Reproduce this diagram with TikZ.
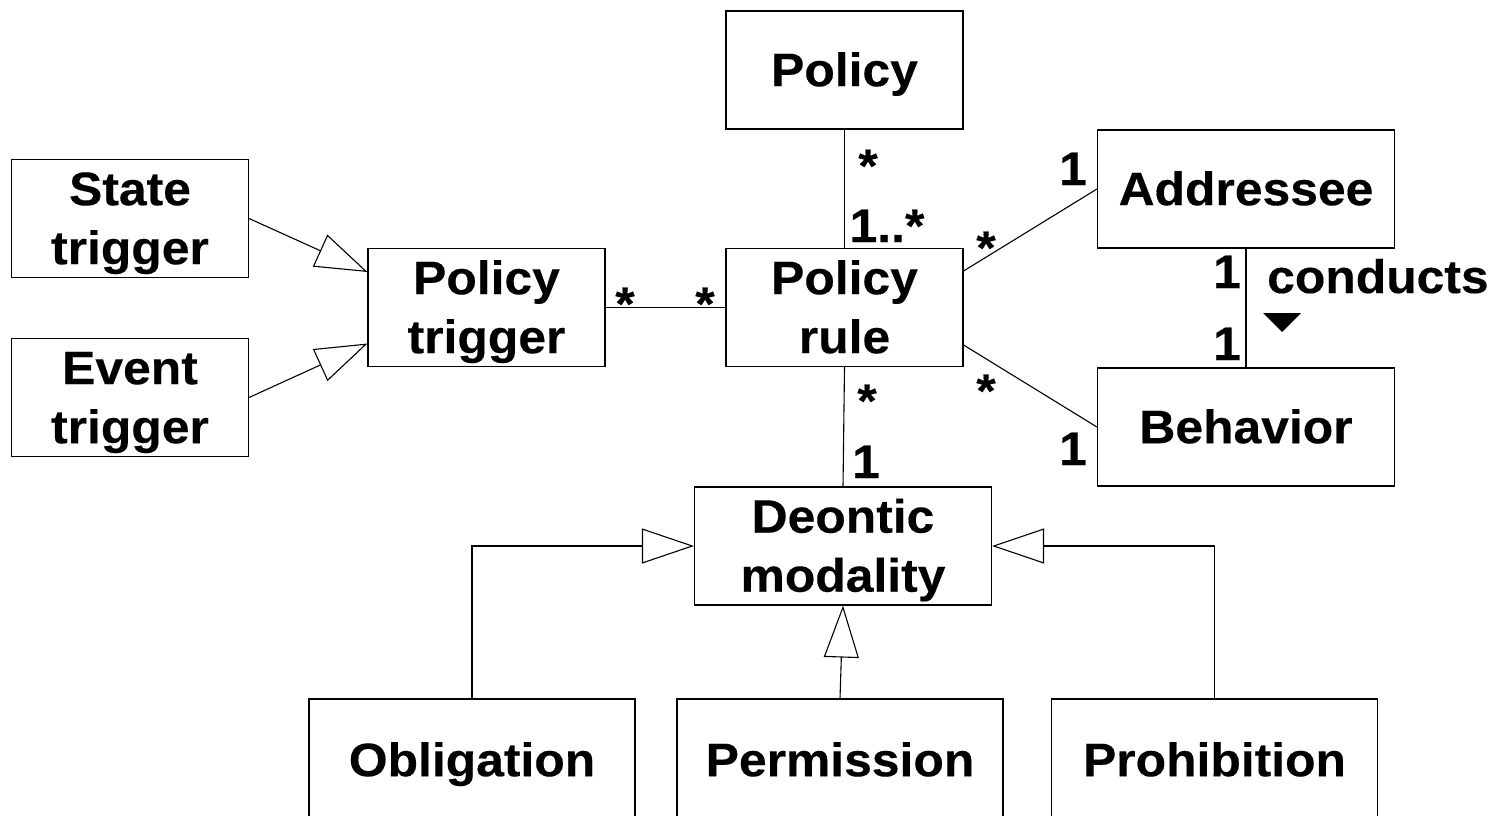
\documentclass[tikz,border=0pt]{standalone}
\usepackage{fontspec}
\usetikzlibrary{arrows.meta}
\newfontfamily\diagfont{Liberation Sans}[FakeStretch=1.06,FakeBold=0.3]
% a text line whose box runs from cap height down to the baseline
\newcommand\capline[1]{\smash{#1}\vphantom{A}}
\begin{document}
\begin{tikzpicture}[x=1pt,y=-1pt,
  every node/.style={font=\diagfont\bfseries\fontsize{47}{59}\selectfont},
  cls/.style={draw=black,line width=1.1pt,fill=white,inner sep=0pt,
    minimum height=118pt,align=center},
  narrow/.style={cls,minimum width=237pt},
  wide/.style={cls,minimum width=297pt},
  leaf/.style={cls,minimum width=326pt,minimum height=122pt},
  assoc/.style={draw=black,line width=1.1pt},
  gen/.style={assoc,-{Triangle[open,length=52pt,width=35pt]}},
  mult/.style={anchor=base,inner sep=0pt}]
\useasboundingbox (0,0) rectangle (1493,815);
\clip (0,0) rectangle (1493,815);

% classes
\node[narrow] (pol) at (844.5,70) {\capline{Policy}};
\node[narrow] (st)  at (130,218.5) {\capline{State}\\\capline{trigger}};
\node[narrow] (et)  at (130,397.5) {\capline{Event}\\\capline{trigger}};
\node[narrow] (pt)  at (486.5,307.5) {\capline{Policy}\\\capline{trigger}};
\node[narrow] (pr)  at (844.5,307.5) {\capline{Policy}\\\capline{rule}};
\node[wide]   (ad)  at (1246,189) {\capline{Addressee}};
\node[wide]   (be)  at (1246,427) {\capline{Behavior}};
\node[wide]   (dm)  at (843,546) {\capline{Deontic}\\\capline{modality}};
\node[leaf]   (ob)  at (472,760) {\capline{Obligation}};
\node[leaf]   (pe)  at (840,760) {\capline{Permission}};
\node[leaf]   (ph)  at (1214.5,760) {\capline{Prohibition}};

% generalisations
\draw[gen] (st.east) -- ([yshift=35.5pt]pt.west);
\draw[gen] (et.east) -- ([yshift=-36pt]pt.west);
\draw[gen] (ob.north) |- (dm.west);
\draw[gen] (ph.north) |- (dm.east);
\draw[gen] (pe.north) -- (dm.south);

% associations
\draw[assoc] (pol.south) -- (pr.north);
\draw[assoc] (pt.east) -- (pr.west);
\draw[assoc] ([yshift=36.5pt]pr.east) -- (ad.west);
\draw[assoc] ([yshift=-37.5pt]pr.east) -- (be.west);
\draw[assoc] (ad.south) -- (be.north);
\draw[assoc] (pr.south) -- (dm.north);

% multiplicities
\node[mult] (m1) at (868,182) {*};
\node[mult] (m2) at (887,242) {1..*};
\node[mult] (m3) at (625,320) {*};
\node[mult] (m4) at (705,320) {*};
\node[mult] (m5) at (986,264) {*};
\node[mult] (m6) at (986,407) {*};
\node[mult] (m7) at (867,417) {*};
\node[mult] (m8) at (866,478) {1};
\node[mult] (m9) at (1073,185) {1};
\node[mult] (m10) at (1073,465) {1};
\node[mult] (m11) at (1227,288) {1};
\node[mult] (m12) at (1227,360) {1};

% association name and reading direction
\node[anchor=base west,inner sep=0pt] (cond) at (1267,293) {conducts};
\fill[black] (1263,313) -- (1301,313) -- (1282,332) -- cycle;
\end{tikzpicture}
\end{document}
